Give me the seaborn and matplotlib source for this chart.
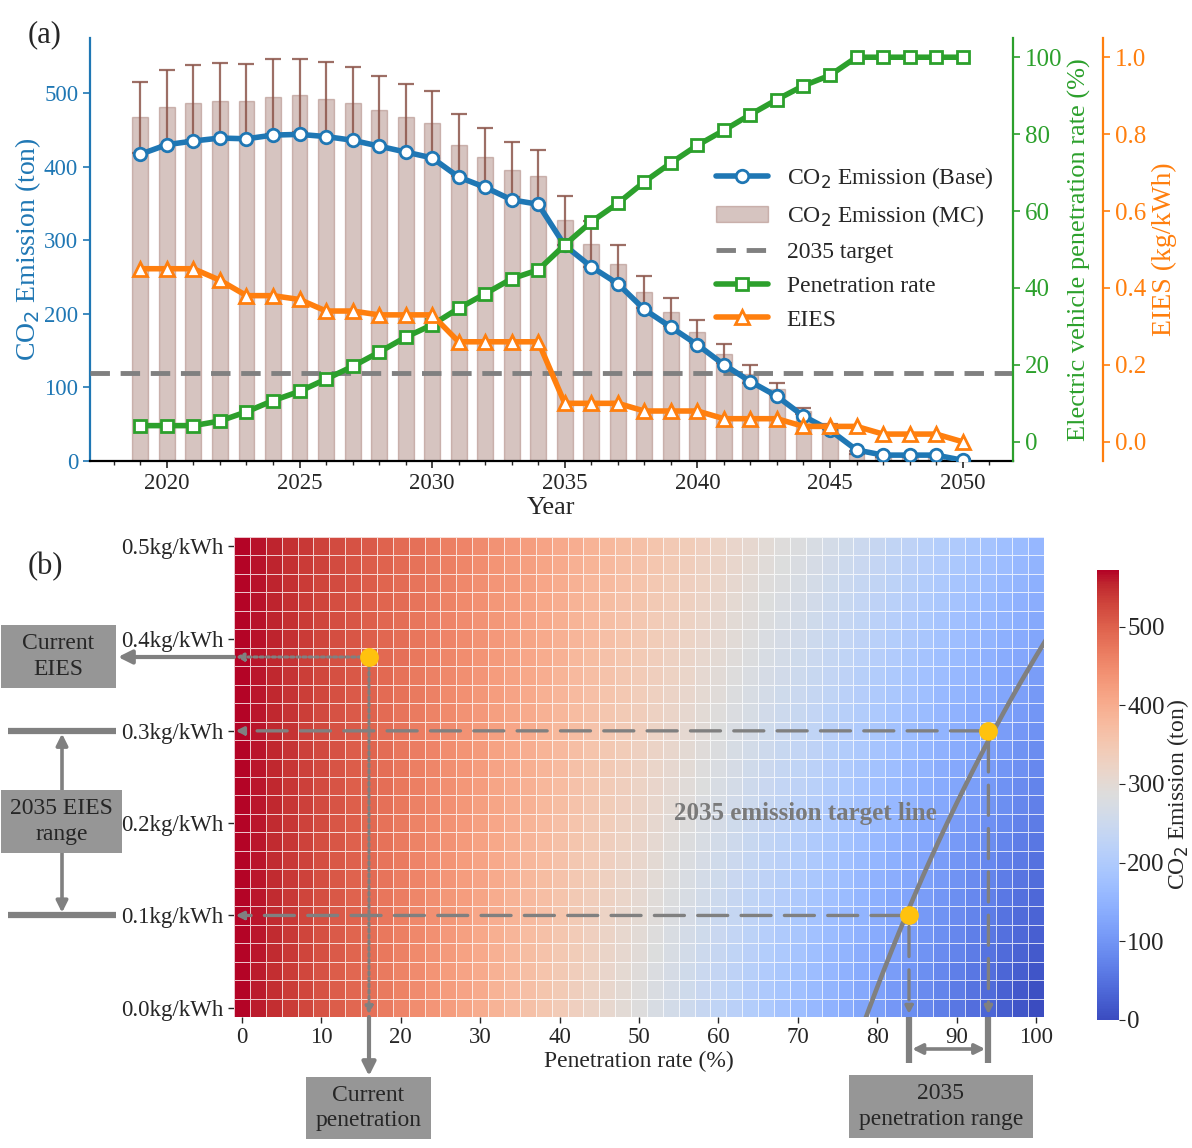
import numpy as np
import pandas as pd
import matplotlib
matplotlib.use("Agg")
import matplotlib.pyplot as plt
import matplotlib.transforms as mtransforms
import seaborn as sns
from matplotlib.lines import Line2D
from matplotlib.patches import Patch, Rectangle
from matplotlib.ticker import MultipleLocator, FormatStrFormatter

# ---------------- data (panel a) ----------------
years = list(range(2019, 2051))
co2_base = [417, 430, 435, 439, 438, 443, 444, 441, 436, 428, 420, 412, 386, 372, 355, 349,
            293, 264, 241, 206, 182, 158, 131, 108, 88, 61, 42, 15, 8, 8, 8, 1]
co2_mc = [467, 481, 487, 490, 489, 495, 497, 492, 486, 477, 467, 459, 430, 413, 396, 387,
          327, 295, 268, 230, 203, 176, 146, 118, 98, 68, 47, 12, 7, 7, 7, 2]
mc_err = [48, 51, 51, 51, 50, 51, 50, 50, 49, 47, 46, 44, 42, 40, 37, 36,
          33, 31, 25, 22, 19, 15, 13, 12, 8, 4, 3, 2, 1, 1, 1, 1]
penetration = [4.2, 4.2, 4.2, 5.4, 7.8, 10.7, 13.1, 16.3, 19.6, 23.3, 27.2, 30.4, 34.7, 38.5,
               42.4, 44.7, 51.2, 57.2, 62.0, 67.6, 72.5, 77.1, 81.0, 85.1, 89.0, 92.6, 95.3,
               100, 100, 100, 100, 100]
eies = [0.45, 0.45, 0.45, 0.42, 0.38, 0.38, 0.37, 0.34, 0.34, 0.33, 0.33, 0.33, 0.26, 0.26,
        0.26, 0.26, 0.10, 0.10, 0.10, 0.08, 0.08, 0.08, 0.06, 0.06, 0.06, 0.04, 0.04, 0.04,
        0.02, 0.02, 0.02, 0.00]
co2_target = 120

# ---------------- data (panel b) ----------------
heat_pen = list(range(0, 101, 2))
heat_eies = [round(0.02 * i, 2) for i in range(26)]
ice_emission = 572      # emission at 0 % penetration (ton)
ev_factor = 315         # emission per kg/kWh at 100 % penetration (ton)
current_pen, current_eies = 16, 0.38
range_pen = [84, 94]
range_eies = [0.1, 0.3]
x_ticks_b = list(range(0, 101, 10))
y_ticks_b = [0.5, 0.4, 0.3, 0.2, 0.1, 0.0]

# ---------------- style ----------------
W, H = 1192, 1148
sns.set_style("ticks")
plt.rcParams["font.family"] = ["Liberation Serif", "DejaVu Serif"]
plt.rcParams["mathtext.fontset"] = "dejavusans"

BLUE = "#1f77b4"
GREEN = "#2ca02c"
ORANGE = "#ff7f0e"
BROWN = "#8c564b"
GRAY = "#808080"
BOXC = "#969696"
GOLD = "#FFC20E"

fig = plt.figure(figsize=(W / 100, H / 100), dpi=100)


def rect(l, t, r, b):
    return [l / W, 1 - b / H, (r - l) / W, (b - t) / H]


def fx(x):
    return x / W


def fy(y):
    return 1 - y / H


# ================= panel (a) =================
ax = fig.add_axes(rect(90, 38, 1013, 461))
df = pd.DataFrame({"year": years, "base": co2_base, "mc": co2_mc, "err": mc_err,
                   "pen": penetration, "eies": eies})

sns.barplot(data=df, x="year", y="mc", native_scale=True, width=0.6, color=BROWN,
            saturation=1, alpha=0.35, edgecolor=BROWN, linewidth=1, errorbar=None,
            ax=ax, zorder=1)
ax.errorbar(df["year"], df["mc"], yerr=df["err"], fmt="none", ecolor=BROWN,
            elinewidth=1.6, capsize=6, capthick=1.6, alpha=0.85, zorder=2)
ax.axhline(co2_target, color=GRAY, lw=3.5, ls=(0, (4, 2.2)), zorder=3)
sns.lineplot(data=df, x="year", y="base", ax=ax, color=BLUE, lw=4, marker="o",
             markersize=9, markerfacecolor="white", markeredgecolor=BLUE,
             markeredgewidth=2, zorder=4, errorbar=None)

ax.set_xlim(2017.1, 2051.9)
ax.set_ylim(0, 575)
ax.set_xticks(range(2020, 2051, 5))
ax.xaxis.set_minor_locator(MultipleLocator(1))
ax.set_yticks(range(0, 501, 100))
ax.tick_params(axis="x", which="major", length=5, width=1.2, labelsize=16.5)
ax.tick_params(axis="x", which="minor", length=3, width=1)
ax.tick_params(axis="y", colors=BLUE, labelsize=16.5, length=5, width=1.2)
ax.set_xlabel("Year", fontsize=19, labelpad=2)
ax.set_ylabel("CO$_2$ Emission (ton)", color=BLUE, fontsize=20, labelpad=1)
ax.spines["top"].set_visible(False)
ax.spines["right"].set_visible(False)
ax.spines["left"].set_color(BLUE)
ax.spines["left"].set_linewidth(1.6)
ax.spines["bottom"].set_linewidth(1.6)
ax.spines["bottom"].set_color("black")
if ax.get_legend():
    ax.get_legend().remove()

ax2 = ax.twinx()
sns.lineplot(data=df, x="year", y="pen", ax=ax2, color=GREEN, lw=4, marker="s",
             markersize=9, markerfacecolor="white", markeredgecolor=GREEN,
             markeredgewidth=2, errorbar=None)
ax2.set_ylim(-5, 105)
ax2.set_yticks(range(0, 101, 20))
ax2.tick_params(axis="y", colors=GREEN, labelsize=18, length=5, width=1.2)
ax2.set_ylabel("Electric vehicle penetration rate (%)", color=GREEN, fontsize=19)
for s in ["top", "left", "bottom"]:
    ax2.spines[s].set_visible(False)
ax2.spines["right"].set_color(GREEN)
ax2.spines["right"].set_linewidth(1.6)

ax3 = ax.twinx()
sns.lineplot(data=df, x="year", y="eies", ax=ax3, color=ORANGE, lw=4, marker="^",
             markersize=10, markerfacecolor="white", markeredgecolor=ORANGE,
             markeredgewidth=2, errorbar=None)
ax3.set_ylim(-0.05, 1.05)
ax3.set_yticks([0.0, 0.2, 0.4, 0.6, 0.8, 1.0])
ax3.yaxis.set_major_formatter(FormatStrFormatter("%.1f"))
ax3.spines["right"].set_position(("axes", 1 + 90 / 923))
ax3.tick_params(axis="y", colors=ORANGE, labelsize=18, length=5, width=1.2)
ax3.set_ylabel("EIES (kg/kWh)", color=ORANGE, fontsize=20)
for s in ["top", "left", "bottom"]:
    ax3.spines[s].set_visible(False)
ax3.spines["right"].set_color(ORANGE)
ax3.spines["right"].set_linewidth(1.6)
ax.set_xlim(2017.1, 2051.9)

handles = [
    Line2D([], [], color=BLUE, lw=4, marker="o", ms=9, mfc="white", mec=BLUE, mew=2),
    Patch(facecolor=BROWN, alpha=0.35, edgecolor=BROWN),
    Line2D([], [], color=GRAY, lw=3.5, ls=(0, (4, 2.2))),
    Line2D([], [], color=GREEN, lw=4, marker="s", ms=9, mfc="white", mec=GREEN, mew=2),
    Line2D([], [], color=ORANGE, lw=4, marker="^", ms=10, mfc="white", mec=ORANGE, mew=2),
]
labels = ["CO$_2$ Emission (Base)", "CO$_2$ Emission (MC)", "2035 target",
          "Penetration rate", "EIES"]
ax3.legend(handles, labels, loc="upper left", bbox_to_anchor=(fx(716), fy(165)),
           bbox_transform=fig.transFigure, frameon=False, fontsize=17,
           handlelength=2.2, handletextpad=0.8, labelspacing=0.52, borderpad=0,
           borderaxespad=0)

fig.text(fx(28), fy(35), "(a)", fontsize=22, va="center", ha="left")

# ================= panel (b) =================
Z = np.array([[(1 - p / 100) * ice_emission + (p / 100) * ev_factor * e for p in heat_pen]
              for e in heat_eies[::-1]])
hdf = pd.DataFrame(Z, index=heat_eies[::-1], columns=heat_pen)

axh = fig.add_axes(rect(234, 537, 1044, 1017))
cax = fig.add_axes(rect(1097, 570, 1119, 1020))
sns.heatmap(hdf, cmap="coolwarm", vmin=0, linewidths=0.5, linecolor=(1, 1, 1, 0.75),
            ax=axh, cbar_ax=cax, xticklabels=False, yticklabels=False,
            cbar_kws={"ticks": list(range(0, 501, 100))})

dp = heat_pen[1] - heat_pen[0]
de = heat_eies[1] - heat_eies[0]


def hx(p):
    return (p - heat_pen[0]) / dp + 0.5


def hy(e):
    return (heat_eies[-1] - e) / de + 0.5


nrow, ncol = Z.shape
# 2035 emission target contour (padded so it reaches the cell edges)
Zp = np.pad(Z, 1, mode="reflect", reflect_type="odd")
xs = np.arange(-1, ncol + 1) + 0.5
ys = np.arange(-1, nrow + 1) + 0.5
axh.contour(xs, ys, Zp, levels=[co2_target], colors=GRAY, linewidths=3.3)
axh.set_xlim(0, ncol)
axh.set_ylim(nrow, 0)

axh.set_xticks([hx(v) for v in x_ticks_b])
axh.set_xticklabels([str(v) for v in x_ticks_b], rotation=0)
axh.set_yticks([hy(v) for v in y_ticks_b])
axh.set_yticklabels([f"{v:.1f}kg/kWh" for v in y_ticks_b], rotation=0)
axh.tick_params(axis="both", labelsize=16.5, length=4, width=1)
axh.set_xlabel("Penetration rate (%)", fontsize=17, labelpad=2)
axh.set_ylabel("")

cax.tick_params(labelsize=18, length=4, pad=2)
cax.set_ylabel("CO$_2$ Emission (ton)", fontsize=17, labelpad=0)

axh.text(hx(71), hy(0.21), "2035 emission target line", fontsize=18, fontweight="bold",
         color="#7a7a7a", ha="center", va="center")

# guide lines inside the heatmap
arrow_small = dict(arrowstyle="-|>", mutation_scale=11, shrinkA=0, shrinkB=0, color=GRAY)
axh.annotate("", xy=(0.1, hy(current_eies)), xytext=(hx(current_pen) - 0.5, hy(current_eies)),
             arrowprops=dict(arrow_small, lw=2.2, ls=(0, (1, 1))))
axh.annotate("", xy=(hx(current_pen), nrow - 0.15), xytext=(hx(current_pen), hy(current_eies) + 0.5),
             arrowprops=dict(arrow_small, lw=2.2, ls=(0, (1, 1))))
for p, e in zip(range_pen, range_eies):
    axh.annotate("", xy=(0.1, hy(e)), xytext=(hx(p) - 0.5, hy(e)),
                 arrowprops=dict(arrow_small, lw=2.4, ls=(0, (9, 4))))
    axh.annotate("", xy=(hx(p), nrow - 0.15), xytext=(hx(p), hy(e) + 0.6),
                 arrowprops=dict(arrow_small, lw=2.4, ls=(0, (9, 4))))

axh.plot([hx(current_pen)] + [hx(p) for p in range_pen],
         [hy(current_eies)] + [hy(e) for e in range_eies],
         "o", color=GOLD, ms=12.5, zorder=10, clip_on=False)

# ---------- annotation boxes outside the heatmap ----------
blend_xfig = mtransforms.blended_transform_factory(fig.transFigure, axh.transData)
blend_yfig = mtransforms.blended_transform_factory(axh.transData, fig.transFigure)
big_arrow = dict(arrowstyle="-|>", mutation_scale=20, shrinkA=0, shrinkB=0, color=GRAY, lw=3)


def gray_box(l, t, r, b, text):
    fig.add_artist(Rectangle((fx(l), fy(b)), (r - l) / W, (b - t) / H,
                             transform=fig.transFigure, facecolor=BOXC, edgecolor="none"))
    fig.text(fx((l + r) / 2), fy((t + b) / 2), text, fontsize=17, ha="center",
             va="center", linespacing=1.3)


# Current EIES
gray_box(1, 625, 116, 688, "Current\nEIES")
axh.annotate("", xy=(fx(118), hy(current_eies)), xycoords=("figure fraction", "data"),
             xytext=(0, hy(current_eies)), textcoords="data", arrowprops=big_arrow,
             annotation_clip=False)

# 2035 EIES range
gray_box(1, 790, 122, 853, "2035 EIES\nrange")
for e in range_eies:
    axh.plot([fx(8), fx(116)], [hy(e), hy(e)], transform=blend_xfig, clip_on=False,
             color=GRAY, lw=4.5, solid_capstyle="butt")
axh.annotate("", xy=(fx(62), hy(range_eies[1]) + 0.15), xycoords=("figure fraction", "data"),
             xytext=(fx(62), fy(790)), textcoords="figure fraction",
             arrowprops=dict(big_arrow, lw=2.6, mutation_scale=17), annotation_clip=False)
axh.annotate("", xy=(fx(62), hy(range_eies[0]) - 0.15), xycoords=("figure fraction", "data"),
             xytext=(fx(62), fy(853)), textcoords="figure fraction",
             arrowprops=dict(big_arrow, lw=2.6, mutation_scale=17), annotation_clip=False)

# Current penetration
gray_box(306, 1077, 431, 1139, "Current\npenetration")
axh.annotate("", xy=(hx(current_pen), fy(1076)), xycoords=("data", "figure fraction"),
             xytext=(hx(current_pen), nrow), textcoords="data", arrowprops=big_arrow,
             annotation_clip=False)

# 2035 penetration range
gray_box(849, 1075, 1033, 1138, "2035\npenetration range")
for p in range_pen:
    axh.plot([hx(p), hx(p)], [fy(1017), fy(1063)], transform=blend_yfig, clip_on=False,
             color=GRAY, lw=4.5, solid_capstyle="butt")
axh.annotate("", xy=(hx(range_pen[1]) - 0.2, fy(1049)), xycoords=("data", "figure fraction"),
             xytext=(hx(range_pen[0]) + 0.2, fy(1049)), textcoords=("data", "figure fraction"),
             arrowprops=dict(arrowstyle="<|-|>", mutation_scale=15, shrinkA=0, shrinkB=0,
                             color=GRAY, lw=2.6), annotation_clip=False)

fig.text(fx(28), fy(567), "(b)", fontsize=22, va="center", ha="left")

fig.savefig("out.png", dpi=100)
